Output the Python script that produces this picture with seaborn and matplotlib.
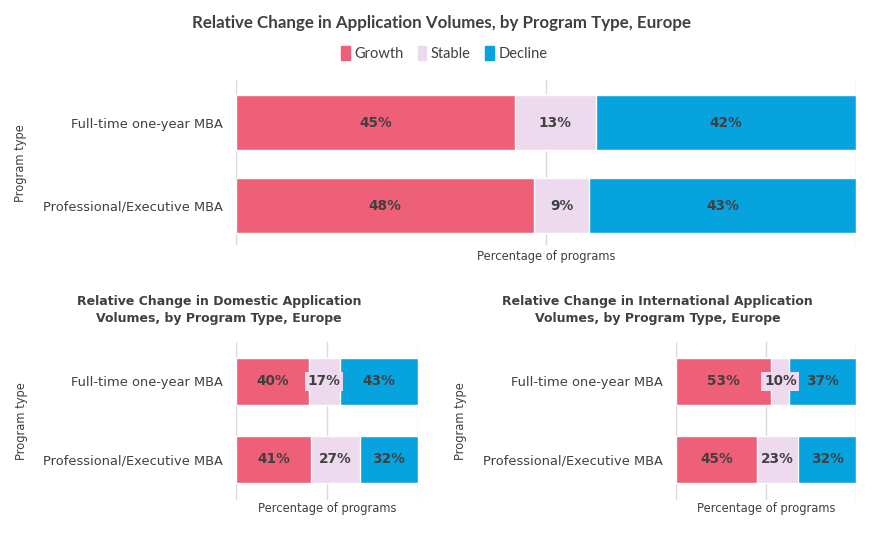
import numpy as np
import pandas as pd
import seaborn as sns
import matplotlib.pyplot as plt
from matplotlib.patches import Patch

sns.set_theme(style="white")
plt.rcParams['font.family'] = ['DejaVu Sans']

# data
programs = ['Full-time one-year MBA', 'Professional/Executive MBA']
statuses = ['Growth', 'Stable', 'Decline']
colors = {'Growth': '#EE5F78', 'Stable': '#EDDAEE', 'Decline': '#07A3DF'}

overall_growth = [45, 48]
overall_stable = [13, 9]
overall_decline = [42, 43]

domestic_growth = [40, 41]
domestic_stable = [17, 27]
domestic_decline = [43, 32]

intl_growth = [53, 45]
intl_stable = [10, 23]
intl_decline = [37, 32]

text_col = '#404040'


def stacked(ax, growth, stable, decline, bar_h, fs):
    df = pd.DataFrame({'program': programs, 'Growth': growth,
                       'Stable': stable, 'Decline': decline})
    df['c_growth'] = df['Growth']
    df['c_stable'] = df['Growth'] + df['Stable']
    df['c_decline'] = df['c_stable'] + df['Decline']
    # draw from the longest to the shortest so the stack shows
    for col, name in [('c_decline', 'Decline'), ('c_stable', 'Stable'), ('c_growth', 'Growth')]:
        sns.barplot(data=df, x=col, y='program', color=colors[name], orient='h',
                    width=bar_h, saturation=1, ax=ax, zorder=2)
    # labels
    for i, row in df.iterrows():
        left = 0
        for name in statuses:
            v = row[name]
            ax.text(left + v / 2, i, f'{v}%', ha='center', va='center',
                    fontsize=fs, fontweight='bold', color=text_col, zorder=5,
                    bbox=dict(boxstyle='square,pad=0.2', fc=colors[name], ec='none'))
            left += v
    ax.set_xlim(0, 100)
    ax.set_xticks([0, 50, 100])
    ax.set_xticklabels([])
    ax.grid(axis='x', color='#d9d9d9', lw=1, zorder=0)
    ax.grid(axis='y', visible=False)
    sns.despine(ax=ax, left=True, bottom=True)
    ax.tick_params(axis='both', length=0)
    ax.tick_params(axis='y', labelsize=9.4, labelcolor=text_col, pad=9.8)
    ax.set_xlabel('Percentage of programs', fontsize=8.3, color=text_col, va='top')
    ax.set_ylabel('Program type', fontsize=8.3, color=text_col)


fig = plt.figure(figsize=(8.9, 5.34), dpi=100)

ax1 = fig.add_axes([0.2652, 0.541, 0.6966, 0.309])
stacked(ax1, overall_growth, overall_stable, overall_decline, 0.66, 9.8)
ax1.set_ylim(1.476, -0.512)
ax1.yaxis.set_label_coords(-0.337, 0.5)
ax1.xaxis.set_label_coords(0.5, -0.03)

ax2 = fig.add_axes([0.2652, 0.0637, 0.2045, 0.2959])
stacked(ax2, domestic_growth, domestic_stable, domestic_decline, 0.60, 9.8)
ax2.set_ylim(1.519, -0.506)
ax2.yaxis.set_label_coords(-1.143, 0.5)
ax2.xaxis.set_label_coords(0.5, -0.013)

ax3 = fig.add_axes([0.7596, 0.0637, 0.2022, 0.2959])
stacked(ax3, intl_growth, intl_stable, intl_decline, 0.60, 9.8)
ax3.set_ylim(1.519, -0.506)
ax3.yaxis.set_label_coords(-1.161, 0.5)
ax3.xaxis.set_label_coords(0.5, -0.013)

fig.text(0.496, 0.957, 'Relative Change in Application Volumes, by Program Type, Europe',
         ha='center', va='center', fontsize=12.2, fontweight='bold',
         family='Lato', color=text_col)
fig.text(0.246, 0.4195, 'Relative Change in Domestic Application\nVolumes, by Program Type, Europe',
         ha='center', va='center', fontsize=9.0, fontweight='bold',
         color=text_col, linespacing=1.36)
fig.text(0.739, 0.4195, 'Relative Change in International Application\nVolumes, by Program Type, Europe',
         ha='center', va='center', fontsize=9.0, fontweight='bold',
         color=text_col, linespacing=1.36)

handles = [Patch(color=colors[s], label=s) for s in statuses]
fig.legend(handles=handles, loc='center', bbox_to_anchor=(0.499, 0.90), ncol=3,
           frameon=False, handlelength=0.6, handleheight=1.1, handletextpad=0.3,
           columnspacing=1.0, prop={'family': 'Lato', 'size': 10.5})
for t in fig.legends[0].get_texts():
    t.set_color(text_col)

fig.savefig('out.png', dpi=100)
